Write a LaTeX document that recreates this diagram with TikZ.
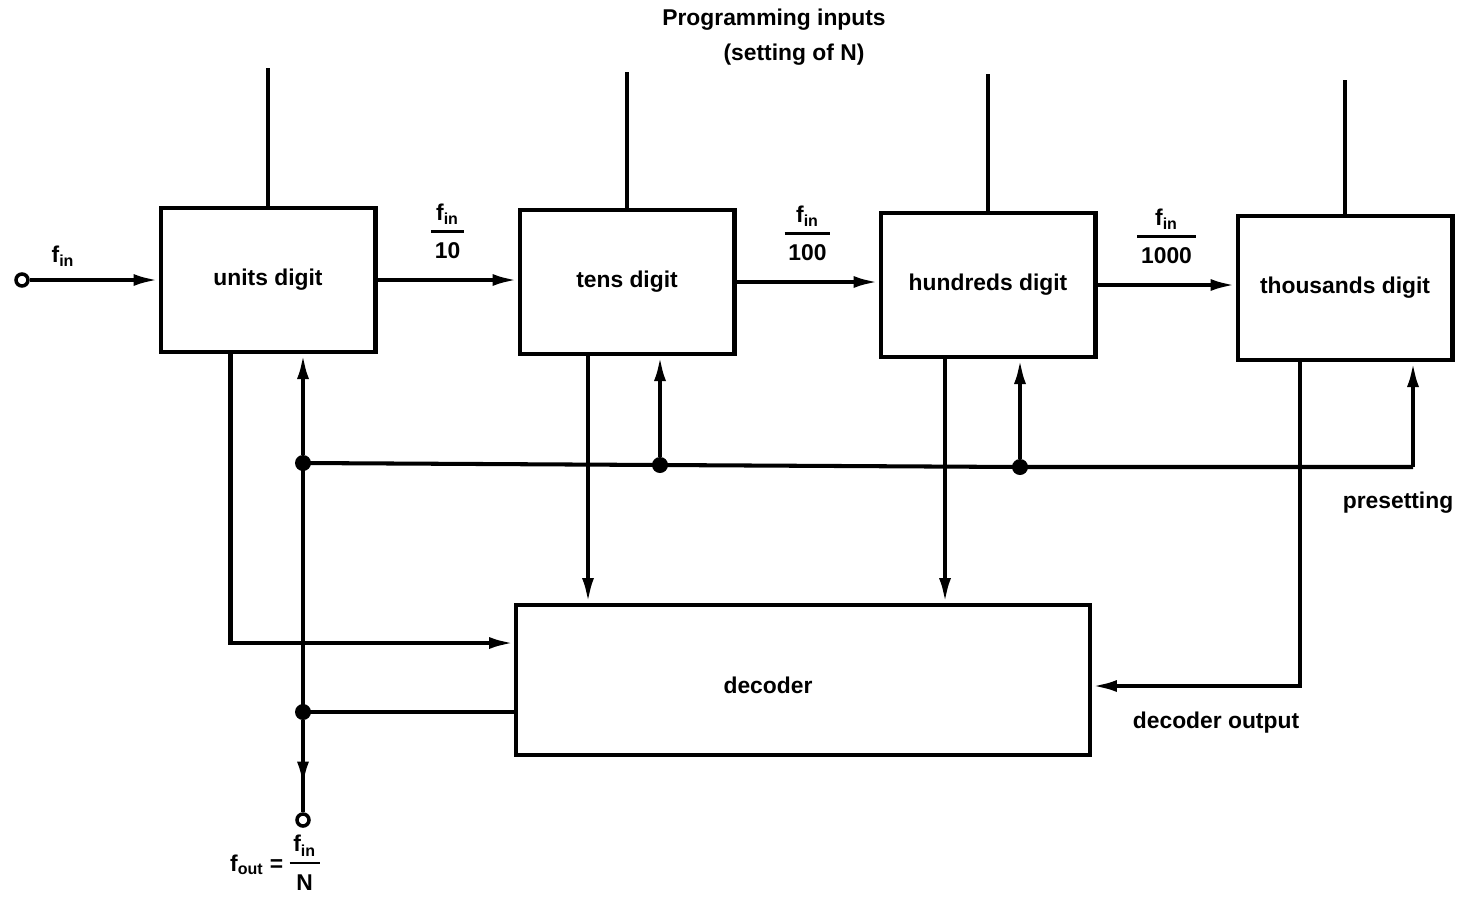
\documentclass[tikz,border=0pt]{standalone}
\usepackage{fontspec}
\setmainfont{Liberation Sans}
\usepackage{tikz}
\usetikzlibrary{arrows.meta,calc,positioning,decorations.markings}
\setlength{\arrayrulewidth}{1.6pt}
\newcommand{\fin}{f\textsubscript{in}}
\newcommand{\frc}[2]{\begin{tabular}{@{\,}c@{\,}}#1\\[1pt]\hline\rule{0pt}{15pt}#2\end{tabular}}

\begin{document}
\begin{tikzpicture}[x=0.02cm,y=-0.02cm,
    every node/.style={font=\fontsize{13}{15}\selectfont\bfseries},
    wire/.style={line width=2.3pt},
    sig/.style={wire,-{Latex[length=0.5cm,width=0.24cm]}},
    digit/.style={draw,line width=2.3pt,minimum width=4.3cm,minimum height=2.88cm,inner sep=0},
    term/.style={draw,circle,line width=2pt,fill=white,minimum size=0.24cm,inner sep=0},
    dot/.style={circle,fill=black,minimum size=0.32cm,inner sep=0},
    mid arrow/.style={postaction={decorate},decoration={markings,
        mark=at position 0.72 with {\arrow{Latex[length=0.5cm,width=0.24cm]}}}}]
  \useasboundingbox (0,0) rectangle (1469,900);

  % Counter stages
  \node[digit] (units) at (268,280) {units digit};
  \node[digit] (tens) at (627,282) {tens digit};
  \node[digit] (hund) at (988,285) {hundreds digit};
  \node[digit] (thou) at (1345,288) {thousands digit};
  \node[draw,line width=2.3pt,minimum width=11.48cm,minimum height=3cm,
      label={[xshift=-0.7cm,yshift=-0.1cm]center:decoder}] (dec) at (803,680) {};

  % Programming inputs
  \node (prog) at (774,20) {Programming inputs};
  \node (setn) at (794,55) {(setting of N)};
  \coordinate (p1) at (268,68);
  \coordinate (p2) at (627,72);
  \coordinate (p3) at (988,74);
  \coordinate (p4) at (1345,80);
  \draw[wire] (p1) -- (units.north);
  \draw[wire] (p2) -- (tens.north);
  \draw[wire] (p3) -- (hund.north);
  \draw[wire] (p4) -- (thou.north);

  % Input and chain
  \node[term] (in) at (22,280) {};
  \node (fin) at (63,256) {\fin};
  \draw[sig] (in) -- (units);
  \draw[sig] (units.east) -- (units.east -| tens.west)
      node[midway,above=3pt] (r10) {\frc{\fin}{10}};
  \draw[sig] (tens.east) -- (tens.east -| hund.west)
      node[midway,above=3pt] (r100) {\frc{\fin}{100}};
  \draw[sig] (hund.east) -- (hund.east -| thou.west)
      node[midway,above=3pt] (r1000) {\frc{\fin}{1000}};

  % Presetting bus
  \node[dot] (d1) at (303,463) {};
  \node[dot] (d2) at (660,465) {};
  \node[dot] (d3) at (1020,467) {};
  \coordinate (c4) at (1413,467);
  \draw[wire] (d1.center) -- (d2.center) -- (d3.center) -- (c4);
  \draw[sig] (d1) -- (d1 |- units.south);
  \draw[sig] (d2) -- (d2 |- tens.south);
  \draw[sig] (d3) -- (d3 |- hund.south);
  \draw[sig] (c4) -- (c4 |- thou.south);
  \node (pre) at (1398,503) {presetting};

  % Outputs to decoder
  \coordinate (q1) at ([xshift=-0.75cm]units.south);
  \coordinate (q2) at ([xshift=-0.78cm]tens.south);
  \coordinate (q3) at ([xshift=-0.86cm]hund.south);
  \coordinate (q4) at ([xshift=-0.9cm]thou.south);
  \draw[sig] (q1) |- ([yshift=0.74cm]dec.west);
  \draw[sig] (q2) -- (q2 |- dec.north);
  \draw[sig] (q3) -- (q3 |- dec.north);
  \draw[sig] (q4) |- ([yshift=-0.12cm]dec.east);

  % Decoder output and f_out
  \node[dot] (d5) at (303,712) {};
  \node[term] (out) at (303,820) {};
  \draw[wire] (d5.center) -- (d5 -| dec.west);
  \draw[wire] (d1.center) -- (d5.center);
  \draw[wire,mid arrow] (d5) -- (out);
  \node (dout) at (1216,723) {decoder output};
  \node (fout) at (275,866) {f\textsubscript{out} = \frc{\fin}{N}};
\end{tikzpicture}
\end{document}
